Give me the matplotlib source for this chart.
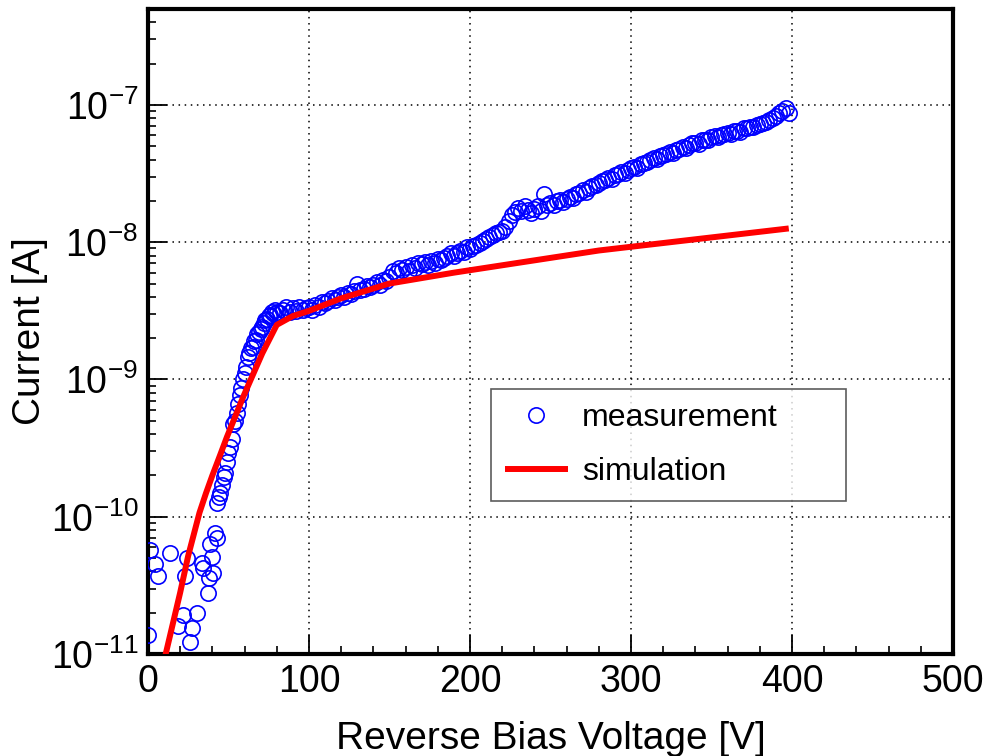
import matplotlib
matplotlib.use("Agg")
from matplotlib import pyplot as plt
from matplotlib.ticker import MultipleLocator, LogLocator

plt.rcParams["font.family"] = ["Liberation Sans", "DejaVu Sans"]
plt.rcParams["mathtext.fontset"] = "custom"
plt.rcParams["mathtext.rm"] = "Liberation Sans"
plt.rcParams["mathtext.it"] = "Liberation Sans:italic"
plt.rcParams["mathtext.default"] = "regular"

# measurement: reverse bias voltage [V] and current [nA]
meas_v = [0, 1.2, 4.3, 6.2, 13.7, 18.6, 21.7, 23, 24, 26, 27.3, 30.4, 33.5, 34,
          37.3, 38, 38.5, 39.8, 40.4, 41.6, 42.9,
          43, 44, 45, 46, 47, 48, 49, 50, 51, 52, 53, 54, 55, 56, 57, 58, 59, 60,
          61, 62, 63, 64, 65, 66, 67, 68, 69, 70, 71, 72, 73, 74, 75, 76, 77, 78,
          79, 80,
          82, 84, 86, 88, 90, 92, 94, 96, 98, 100, 102, 104, 106, 108, 110, 112,
          114, 116, 118, 120, 122, 124, 126, 128, 130, 132, 134, 136, 138, 140,
          142, 144, 146, 148, 150, 152, 154, 156, 158, 160, 162, 164, 166, 168,
          170, 172, 174, 176, 178, 180, 182, 184, 186, 188, 190, 192, 194, 196,
          198, 200, 202, 204, 206, 208, 210, 212, 214, 216, 218, 220, 222, 224,
          226, 228, 230, 232, 234, 236, 238, 240, 242, 244, 246, 248, 250, 252,
          254, 256, 258, 260, 262, 264, 266, 268, 270, 272, 274, 276, 278, 280,
          282, 284, 286, 288, 290, 292, 294, 296, 298, 300, 302, 304, 306, 308,
          310, 312, 314, 316, 318, 320, 322, 324, 326, 328, 330, 332, 334, 336,
          338, 340, 342, 344, 346, 348, 350, 352, 354, 356, 358, 360, 362, 364,
          366, 368, 370, 372, 374, 376, 378, 380, 382, 384, 386, 388, 390, 392,
          394, 396, 398]
meas_i = [0.0138, 0.057, 0.045, 0.037, 0.054, 0.016, 0.0194, 0.037, 0.050, 0.0123,
          0.0155, 0.020, 0.046, 0.042, 0.028, 0.036, 0.063, 0.051, 0.039, 0.076,
          0.070,
          0.126, 0.14, 0.15, 0.17, 0.195, 0.21, 0.25, 0.29, 0.32, 0.37, 0.47, 0.50,
          0.57, 0.66, 0.77, 0.86, 1.0, 1.12, 1.24, 1.45, 1.55, 1.70, 1.73, 1.92,
          1.94, 2.15, 2.2, 2.35, 2.4, 2.6, 2.7, 2.75, 2.9, 2.95, 3.1, 3.0, 3.2,
          3.1,
          3.05, 3.2, 3.35, 3.1, 3.3, 3.15, 3.4, 3.2, 3.3, 3.35, 3.2, 3.5, 3.4,
          3.65, 3.6, 3.75, 3.9, 3.8, 4.0, 4.1, 4.0, 4.3, 4.2, 4.4, 5.0, 4.5, 4.6,
          4.8, 4.7, 4.9, 5.1, 4.9, 5.3, 5.2, 5.6, 6.2, 6.0, 6.5, 6.3, 6.6, 6.2,
          6.8, 6.5, 7.0, 6.9, 7.2, 6.8, 7.3, 7.1, 7.5, 7.4, 7.7, 7.9, 8.3, 8.0,
          8.4, 8.7, 8.5, 9.2, 8.9, 9.4, 9.6, 9.9, 10.2, 10.5, 10.9, 11.2, 11.6,
          11.9, 12.0, 12.8, 14.2, 15.8, 16.5, 17.8, 16.9, 18.5, 17.2, 16.4, 17.5,
          18.3, 17.0, 22.5, 18.6, 19.2, 18.8, 19.8, 20.3, 19.6, 20.8, 21.5, 20.9,
          22.3, 23.0, 24.1, 23.4, 24.8, 25.5, 26.2, 26.8, 27.9, 28.5, 29.6, 29.0,
          30.8, 31.5, 32.4, 31.9, 33.8, 34.6, 35.2, 34.8, 36.9, 37.8, 38.6, 39.5,
          40.8, 40.1, 42.3, 43.0, 44.2, 45.1, 44.6, 47.3, 48.0, 49.6, 48.8, 51.2,
          52.5, 53.0, 52.1, 55.4, 56.0, 55.2, 58.3, 59.0, 58.1, 60.7, 61.8, 62.5,
          61.3, 64.2, 65.0, 64.0, 67.5, 68.2, 69.6, 68.8, 71.2, 72.5, 73.8, 75.2,
          77.5, 79.8, 83.0, 87.0, 90.5, 95.0, 88.0]

# simulation: voltage [V] and current [nA]
sim_v = [10, 20, 25, 32, 36, 40, 45, 49, 59, 71, 80, 90, 100, 120, 150, 190, 280, 398]
sim_i = [0.0089, 0.028, 0.052, 0.107, 0.148, 0.20, 0.285, 0.38, 0.74, 1.55, 2.5,
         2.9, 3.16, 3.9, 5.0, 6.0, 8.7, 12.6]

meas_a = [i * 1e-9 for i in meas_i]
sim_a = [i * 1e-9 for i in sim_i]

fig = plt.figure(figsize=(9.89, 7.56), dpi=100)
ax = fig.add_axes([0.1496, 0.1349, 0.8140, 0.8532])

ax.plot(meas_v, meas_a, "o", mfc="none", mec="#0000ff", ms=11, mew=1.2,
        label="measurement", zorder=3)
ax.plot(sim_v, sim_a, "-", color="#ff0000", lw=4.3, label="simulation",
        zorder=4, solid_capstyle="butt")

ax.set_yscale("log")
ax.set_xlim(0, 500)
ax.set_ylim(1e-11, 5e-7)
ax.xaxis.set_major_locator(MultipleLocator(100))
ax.xaxis.set_minor_locator(MultipleLocator(20))
ax.yaxis.set_major_locator(LogLocator(base=10, numticks=20))
ax.yaxis.set_minor_locator(LogLocator(base=10, subs=range(2, 10), numticks=20))

ax.grid(which="major", color="black", linestyle=(0, (1, 3)), linewidth=1.1)

ax.tick_params(which="both", direction="in", top=False, right=False,
               labelsize=27, pad=7)
ax.tick_params(which="major", length=14, width=1.3)
ax.tick_params(which="minor", length=6, width=1.2)
for s in ax.spines.values():
    s.set_linewidth(3)

ax.set_xlabel("Reverse Bias Voltage [V]", fontsize=28, labelpad=15)
ax.set_ylabel("Current [A]", fontsize=28, labelpad=2)

leg = ax.legend(loc="lower left", bbox_to_anchor=(0.426, 0.237, 0.441, 0.171),
                mode="expand", fontsize=23, frameon=True, fancybox=False,
                edgecolor="#333333", handlelength=1.95, handletextpad=0.45,
                labelspacing=0.74, borderpad=0.45, borderaxespad=0)
leg.get_frame().set_linewidth(1.2)

plt.savefig("out.png", dpi=100)
